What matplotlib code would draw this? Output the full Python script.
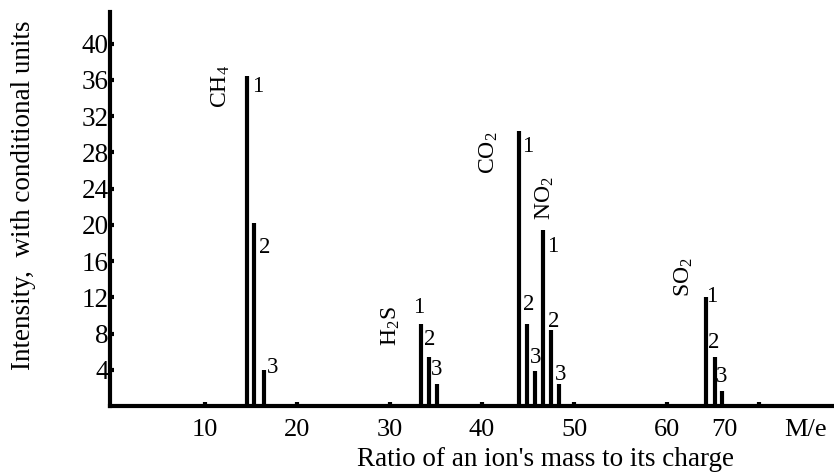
import matplotlib
matplotlib.use('Agg')
import matplotlib.pyplot as plt

plt.rcParams['font.family'] = ['Liberation Serif', 'DejaVu Serif']
plt.rcParams['mathtext.fontset'] = 'custom'
plt.rcParams['mathtext.rm'] = 'Liberation Serif'
plt.rcParams['mathtext.it'] = 'Liberation Serif'

# peak data: M/e position and intensity (conditional units)
gases = ['CH$_4$', 'H$_2$S', 'CO$_2$', 'NO$_2$', 'SO$_2$']
ch4_x = [14.52, 15.28, 16.39]
ch4_y = [36.4, 20.2, 4.0]
h2s_x = [33.36, 34.22, 35.09]
h2s_y = [9.1, 5.4, 2.4]
co2_x = [44.0, 44.83, 45.70]
co2_y = [30.4, 9.1, 3.9]
no2_x = [46.57, 47.43, 48.33]
no2_y = [19.4, 8.4, 2.4]
so2_x = [64.22, 65.19, 66.01]
so2_y = [12.0, 5.4, 1.7]
peak_names = ['1', '2', '3']
yticks = [4, 8, 12, 16, 20, 24, 28, 32, 36, 40]
xticks = [10, 20, 30, 40, 50, 60, 70]

# label layout (data units)
gas_label_pos = [(11.74, 35.3), (30.14, 8.8), (40.75, 28.0), (46.82, 22.9), (61.86, 14.2)]
num_offsets = [
    [(1.22, -1.1), (1.22, -2.7), (0.88, 0.25)],
    [(-0.19, 1.8), (0.14, 1.95), (0.03, 1.6)],
    [(0.97, -1.7), (0.25, 2.1), (0.14, 1.46)],
    [(1.12, -1.8), (0.37, 0.9), (0.22, 1.1)],
    [(0.68, 0.1), (-0.09, 1.6), (-0.03, 1.56)],
]
xlabel_pos = {10: 10, 20: 20, 30: 30, 40: 40, 50: 50, 60: 60, 70: 66.2}

fig = plt.figure(figsize=(8.34, 4.75), dpi=100)
ax = fig.add_axes([110 / 834, 69 / 475, 724 / 834, 394 / 475])

series = [(ch4_x, ch4_y), (h2s_x, h2s_y), (co2_x, co2_y), (no2_x, no2_y), (so2_x, so2_y)]
for (xs, ys), name, lpos, offs in zip(series, gases, gas_label_pos, num_offsets):
    ax.vlines(xs, 0, ys, color='black', linewidth=3.0)
    ax.text(lpos[0], lpos[1], name, rotation=90, ha='center', va='center', fontsize=17)
    for x, y, n, (dx, dy) in zip(xs, ys, peak_names, offs):
        ax.text(x + dx, y + dy, n, ha='center', va='center', fontsize=16.5)

ax.set_xlim(-0.28, 78.1)
ax.set_ylim(0, 43.5)

for s in ['top', 'right']:
    ax.spines[s].set_visible(False)
for s in ['left', 'bottom']:
    ax.spines[s].set_linewidth(3.0)

ax.set_xticks(xticks)
ax.set_xticklabels([])
ax.tick_params(axis='x', direction='in', length=3, width=3)
for t, px in xlabel_pos.items():
    ax.text(px, -2.6, str(t), ha='center', va='center', fontsize=19)
ax.text(75.0, -2.6, 'M/e', ha='center', va='center', fontsize=19)

ax.set_yticks(yticks)
ax.set_yticklabels([str(v) for v in yticks], fontsize=19.5)
ax.tick_params(axis='y', direction='in', length=3, width=3, pad=1)

ax.text(46.9, -5.9, "Ratio of an ion's mass to its charge", ha='center', va='center', fontsize=19.5)
fig.text(24 / 834, 1 - 195 / 475, 'Intensity,  with conditional units', rotation=90,
         ha='center', va='center', fontsize=19.5)

fig.savefig('out.png', dpi=100)
